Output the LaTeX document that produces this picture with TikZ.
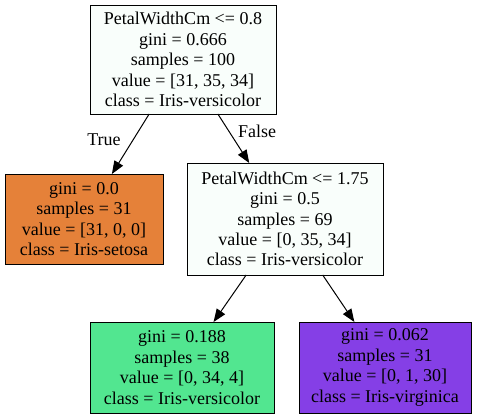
\documentclass[tikz,border=0pt]{standalone}
\usepackage{xcolor}
\usepackage{fontspec}
\setmainfont{Liberation Serif}
\usepackage{tikz}
\usetikzlibrary{arrows.meta}

\definecolor{setosafill}{RGB}{229,129,57}
\definecolor{versifill}{RGB}{82,230,144}
\definecolor{virgifill}{RGB}{133,63,230}
\definecolor{mixfill}{RGB}{249,254,251}

\tikzset{
  treenode/.style={draw, rectangle, line width=0.75pt, outer sep=0pt, inner sep=0pt, align=center,
    font=\fontsize{13.5}{15.3}\selectfont},
  treeedge/.style={-{Triangle[length=9.75pt,width=7.5pt]}, line width=0.75pt}
}

\begin{document}
\begin{tikzpicture}[x=0.75pt,y=0.75pt,yscale=-1,xscale=1]
\useasboundingbox (0,0) rectangle (477,419);

%Shape: Rectangle [root]
\node [treenode, fill=mixfill, minimum width=139.5pt, minimum height=81.75pt] (root) at (183,59.5)
  {PetalWidthCm <= 0.8\\gini = 0.666\\samples = 100\\value = [31, 35, 34]\\class = Iris-versicolor};
%Shape: Rectangle [setosa]
\node [treenode, fill=setosafill, minimum width=118.5pt, minimum height=67.5pt] (setosa) at (84,219)
  {gini = 0.0\\samples = 31\\value = [31, 0, 0]\\class = Iris-setosa};
%Shape: Rectangle [split]
\node [treenode, fill=mixfill, minimum width=147pt, minimum height=84pt] (split) at (285,219)
  {PetalWidthCm <= 1.75\\gini = 0.5\\samples = 69\\value = [0, 35, 34]\\class = Iris-versicolor};
%Shape: Rectangle [versicolor]
\node [treenode, fill=versifill, minimum width=138pt, minimum height=68.25pt] (versicolor) at (182,367.5)
  {gini = 0.188\\samples = 38\\value = [0, 34, 4]\\class = Iris-versicolor};
%Shape: Rectangle [virginica]
\node [treenode, fill=virgifill, minimum width=129pt, minimum height=68.25pt] (virginica) at (385,367.5)
  {gini = 0.062\\samples = 31\\value = [0, 1, 30]\\class = Iris-virginica};

%Straight Lines
\draw [treeedge] (root) -- (setosa);
\draw [treeedge] (root) -- (split);
\draw [treeedge] (split) -- (versicolor);
\draw [treeedge] (split) -- (virginica);

% Text Node
\node [font=\fontsize{13.5}{14}\selectfont] (truelbl) at (104,140) {True};
% Text Node
\node [font=\fontsize{13.5}{14}\selectfont] (falselbl) at (257,131) {False};

\end{tikzpicture}
\end{document}
